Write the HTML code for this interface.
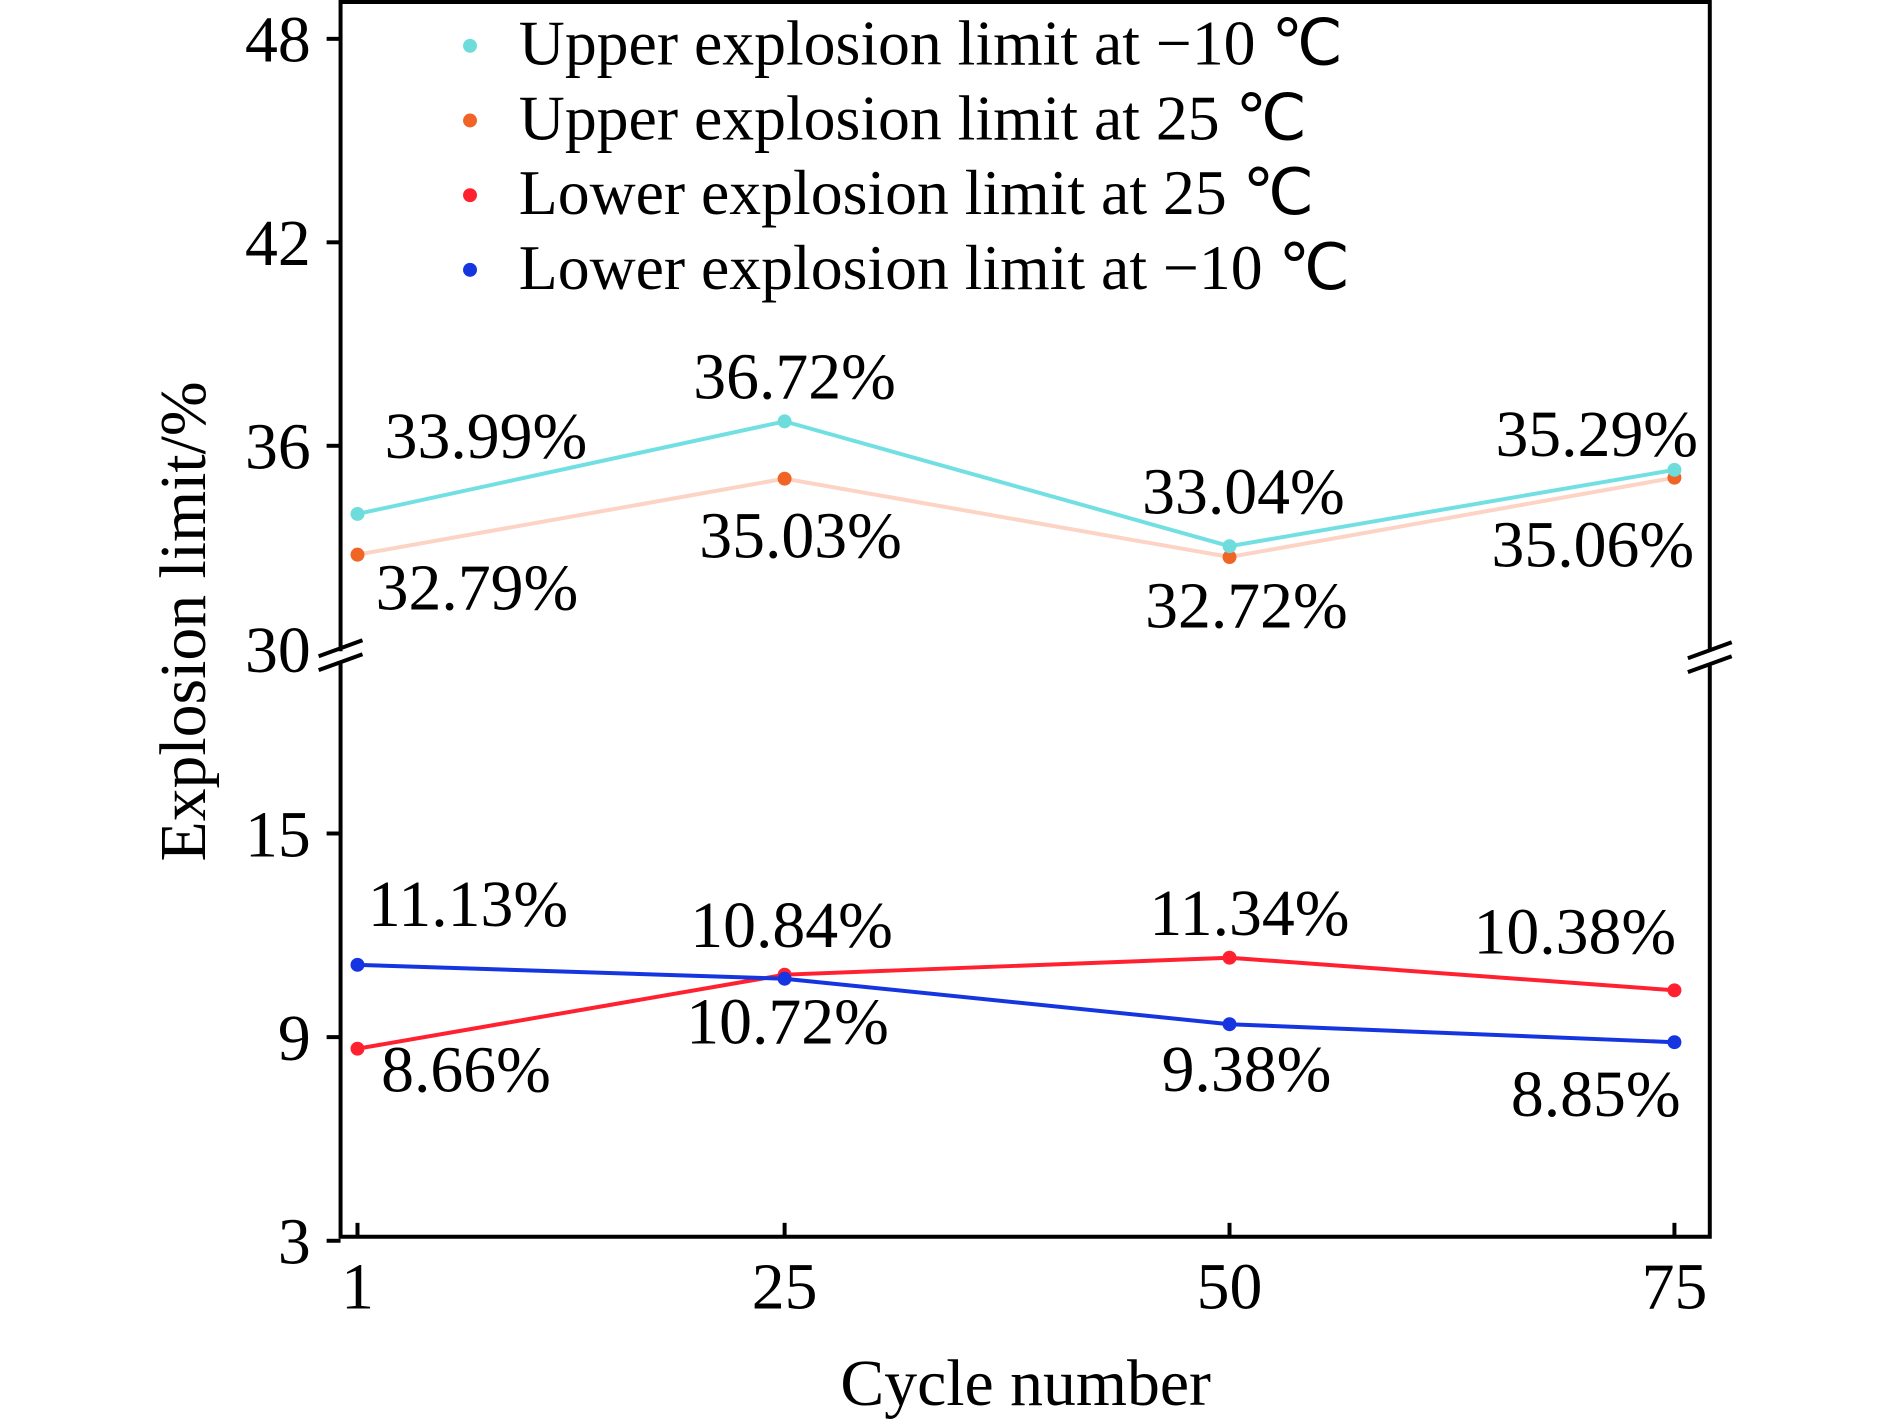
<!DOCTYPE html>
<html><head><meta charset="utf-8"><style>
body{margin:0;background:#fff}
svg{display:block;font-family:"Liberation Serif",serif}
</style></head><body>
<svg id="chart" width="1890" height="1425" viewBox="0 0 1890 1425">
<g transform="scale(0.9958)">
<g id="axes"></g>
<g id="series"></g>
<g id="labels"></g>
<g id="legend"></g>
</g>
</svg>
<script>
const categories = [1, 25, 50, 75];
const upperMinus10 = [33.99, 36.72, 33.04, 35.29];
const upper25 = [32.79, 35.03, 32.72, 35.06];
const lower25 = [8.66, 10.84, 11.34, 10.38];
const lowerMinus10 = [11.13, 10.72, 9.38, 8.85];
const upperTicks = [30, 36, 42, 48];
const lowerTicks = [3, 9, 15];
const xTicks = [1, 25, 50, 75];
const legendLabels = ["Upper explosion limit at \u221210 \u2103","Upper explosion limit at 25 \u2103","Lower explosion limit at 25 \u2103","Lower explosion limit at \u221210 \u2103"];

const NS = "http://www.w3.org/2000/svg";
const L = 342, R = 1717, T = 2, B = 1242;
function xs(v){ return 359 + (v - 1) * (1681.5 - 359) / 74; }
function yUp(v){ return 652 - (v - 30) * (652 - 39) / 18; }
function yLo(v){ return 1246 - (v - 3) * (1246 - 837) / 12; }
function mk(tag, attrs, parent, text){
  const e = document.createElementNS(NS, tag);
  for (const k in attrs) e.setAttribute(k, attrs[k]);
  if (text !== undefined) e.textContent = text;
  parent.appendChild(e); return e;
}
const axes = document.getElementById('axes');
const series = document.getElementById('series');
const labels = document.getElementById('labels');
const legend = document.getElementById('legend');
const FS = 66;

let f;
f = mk('path', {d:`M${L},654 L${L},${T} L${R},${T} L${R},654`, fill:'none', stroke:'#000', 'stroke-width':4}, axes);


f = mk('path', {d:`M${L},666 L${L},${B} L${R},${B} L${R},666`, fill:'none', stroke:'#000', 'stroke-width':4}, axes);


[[L,658],[R,660]].forEach(p=>{
  [-7,7].forEach(d=>{
    const b = mk('line', {x1:p[0]-22, y1:p[1]+d+8, x2:p[0]+22, y2:p[1]+d-8, stroke:'#000', 'stroke-width':4}, axes);
    
    
  });
});
upperTicks.forEach(v=>{
  const y = yUp(v);
  if (v !== 30) { const t = mk('line', {x1:L-14, y1:y, x2:L, y2:y, stroke:'#000', 'stroke-width':4}, axes);
      }
  const tx = mk('text', {x:312, y:y+23, 'font-size':FS, 'text-anchor':'end'}, axes, String(v));
  
  
});
lowerTicks.forEach(v=>{
  const y = yLo(v);
  const t = mk('line', {x1:L-14, y1:y, x2:L, y2:y, stroke:'#000', 'stroke-width':4}, axes);
   
  const tx = mk('text', {x:312, y:y+23, 'font-size':FS, 'text-anchor':'end'}, axes, String(v));
  
  
});
xTicks.forEach(v=>{
  const x = xs(v);
  const t = mk('line', {x1:x, y1:B, x2:x, y2:B-14, stroke:'#000', 'stroke-width':4}, axes);
   
  const tx = mk('text', {x:x, y:1314, 'font-size':FS, 'text-anchor':'middle'}, axes, String(v));
  
  
});
let at = mk('text', {x:1030, y:1411, 'font-size':FS, 'text-anchor':'middle'}, axes, 'Cycle number');


at = mk('text', {x:0, y:0, 'font-size':FS, 'text-anchor':'middle', transform:'translate(206,624) rotate(-90)'}, axes, 'Explosion limit/%');



const defs = [
  {vals:upper25, sc:yUp, line:'#fcd3c4', dot:'#f06426', name:'upper-25'},
  {vals:upperMinus10, sc:yUp, line:'#72e0e2', dot:'#6fdcdc', name:'upper-minus10'},
  {vals:lower25, sc:yLo, line:'#ff2030', dot:'#ff2030', name:'lower-25'},
  {vals:lowerMinus10, sc:yLo, line:'#1535e0', dot:'#1535e0', name:'lower-minus10'}
];
defs.forEach(s=>{
  const pts = s.vals.map((v,i)=>xs(categories[i])+','+s.sc(v)).join(' ');
  const pl = mk('polyline', {points:pts, fill:'none', stroke:s.line, 'stroke-width':4}, series);
  
  
  s.vals.forEach((v,i)=>{
    const c = mk('circle', {cx:xs(categories[i]), cy:s.sc(v), r:7, fill:s.dot}, series);
    
    
  });
});

const lblDefs = [
  {vals:upperMinus10, sc:yUp, off:[[129,-56],[10,-23],[14,-33],[-78,-14]]},
  {vals:upper25, sc:yUp, off:[[120,55],[16,79],[17,71],[-82,89]]},
  {vals:lowerMinus10, sc:yLo, off:[[111,-39],[3,65],[17,67],[-79,74]]},
  {vals:lower25, sc:yLo, off:[[109,43],[7,-28],[20,-23],[-100,-37]]}
];
lblDefs.forEach(s=>{
  s.vals.forEach((v,i)=>{
    const t = mk('text', {x:xs(categories[i])+s.off[i][0], y:s.sc(v)+s.off[i][1], 'font-size':FS, 'text-anchor':'middle'}, labels, v.toFixed(2)+'%');
    
    
  });
});

const legColors = ['#6fdcdc','#f06426','#ff2030','#1535e0'];
legendLabels.forEach((lab,i)=>{
  const y = 46 + i*75;
  const c = mk('circle', {cx:472, cy:y, r:7, fill:legColors[i]}, legend);
  
  
  const t = mk('text', {x:521, y:y+19, 'font-size':64}, legend, lab);
  
  
});
</script>
</body></html>
